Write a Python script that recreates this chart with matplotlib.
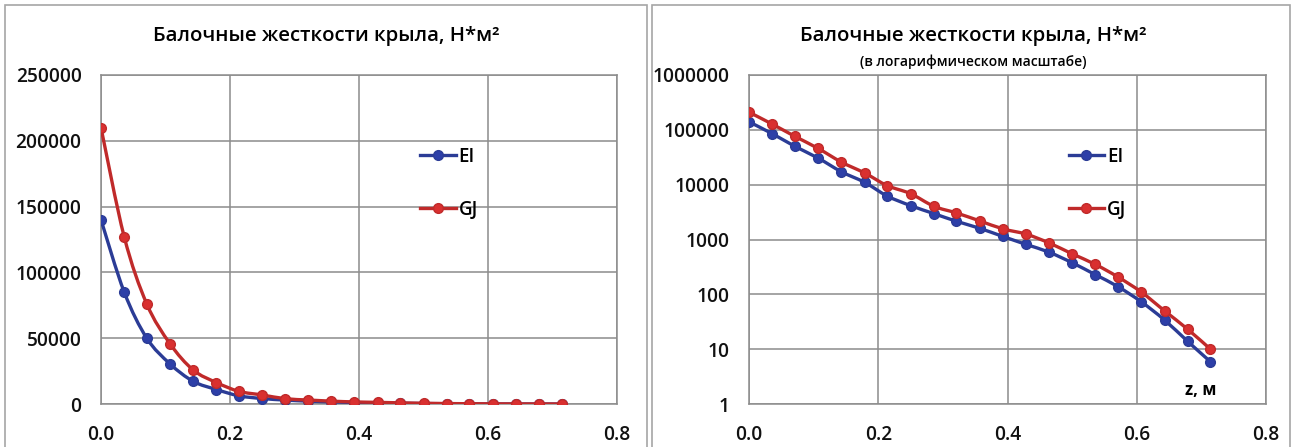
import numpy as np
import matplotlib
matplotlib.use("Agg")
import matplotlib.pyplot as plt
from matplotlib.patches import Rectangle, PathPatch
from matplotlib.path import Path

plt.rcParams['font.family'] = ['Open Sans', 'DejaVu Sans']

##### Stiffness along the wing span
z = [0.0, 0.036, 0.071, 0.107, 0.143, 0.179, 0.214, 0.25, 0.286, 0.321, 0.357,
     0.393, 0.429, 0.464, 0.5, 0.536, 0.571, 0.607, 0.643, 0.679, 0.714]
EI = [140000, 85000, 50000, 30500, 17200, 11000, 6200, 4150, 2970, 2150, 1600,
      1135, 811, 589, 377, 228, 138, 73, 34, 13.8, 5.9]
GJ = [210000, 127000, 76000, 45800, 25800, 16300, 9600, 6860, 4040, 3050, 2185,
      1563, 1250, 869, 548, 351, 207, 110, 50, 23, 10]
x_ticks = [0.0, 0.2, 0.4, 0.6, 0.8]
lin_ticks = [0, 50000, 100000, 150000, 200000, 250000]
log_ticks = [1, 10, 100, 1000, 10000, 100000, 1000000]

title = 'Балочные жесткости крыла, Н*м²'
subtitle = '(в логарифмическом масштабе)'

blue = '#2b3c96'
red = '#c02a2a'
grid_col = '#8c8c8c'
weight = 'semibold'

W, H = 1293, 447
fig = plt.figure(figsize=(W / 100, H / 100), dpi=100)

# chart area frames
for x0, x1 in [(5, 647), (652, 1290)]:
    fig.add_artist(Rectangle((x0 / W, -0.1), (x1 - x0) / W, 1.1 - 5 / H,
                             transform=fig.transFigure, fill=False,
                             edgecolor='#a6a6a6', linewidth=1.2))

ax1 = fig.add_axes([101 / W, 1 - 404 / H, 516 / W, 329 / H])
ax2 = fig.add_axes([749 / W, 1 - 404 / H, 517 / W, 329 / H])


def smooth_path(x, y, log=False):
    # cubic bezier through the points (catmull-rom style tangents)
    x = np.asarray(x, float)
    y = np.asarray(y, float)
    if log:
        y = np.log10(y)
    verts = [(x[0], y[0])]
    codes = [Path.MOVETO]
    n = len(x)
    for i in range(n - 1):
        p0 = max(i - 1, 0)
        p3 = min(i + 2, n - 1)
        c1 = (x[i] + (x[i + 1] - x[p0]) / 6, y[i] + (y[i + 1] - y[p0]) / 6)
        c2 = (x[i + 1] - (x[p3] - x[i]) / 6, y[i + 1] - (y[p3] - y[i]) / 6)
        verts += [c1, c2, (x[i + 1], y[i + 1])]
        codes += [Path.CURVE4] * 3
    verts = np.array(verts)
    if log:
        verts[:, 1] = 10 ** verts[:, 1]
    return Path(verts, codes)


def draw(ax, log=False):
    for vals, col, fc, name, zo in [(EI, blue, '#2d3fa8', 'EI', 3),
                                    (GJ, red, '#d93030', 'GJ', 4)]:
        ax.add_patch(PathPatch(smooth_path(z, vals, log), fill=False,
                               edgecolor=col, lw=2.4, zorder=zo))
        ax.plot(z, vals, 'o', color=col, ms=7, mfc=fc, mec=col, zorder=zo)
        ax.plot([], [], '-o', color=col, lw=2.4, ms=7, mfc=fc, mec=col,
                label=name)
    ax.set_xlim(0, 0.8)
    ax.set_xticks(x_ticks)
    ax.set_xticklabels(['%.1f' % t for t in x_ticks], fontweight=weight)
    ax.grid(True, color=grid_col, linewidth=1.1)
    ax.set_axisbelow(True)
    for s in ax.spines.values():
        s.set_color(grid_col)
        s.set_linewidth(1.1)
    ax.tick_params(length=0, labelsize=13.8, colors='#111111')
    ax.tick_params(axis='x', pad=15)
    ax.tick_params(axis='y', pad=14)
    leg = ax.legend(loc='upper left', bbox_to_anchor=(0.6, 0.81), frameon=False,
                    fontsize=13.5, handlelength=1.9, handletextpad=0.15,
                    labelspacing=1.75, borderpad=0)
    for t in leg.get_texts():
        t.set_fontweight(weight)


draw(ax1)
ax1.set_ylim(0, 250000)
ax1.set_yticks(lin_ticks)
ax1.set_yticklabels([str(t) for t in lin_ticks], fontweight=weight)

draw(ax2, log=True)
ax2.set_yscale('log')
ax2.set_ylim(1, 1000000)
ax2.set_yticks(log_ticks)
ax2.set_yticklabels([str(t) for t in log_ticks], fontweight=weight)
ax2.yaxis.set_minor_locator(plt.NullLocator())
ax2.text(1201 / W, 1 - 390 / H, 'z, м', transform=fig.transFigure,
         ha='center', va='center', fontsize=12, fontweight='bold')

fig.text(326 / W, 1 - 36 / H, title, ha='center', va='center', fontsize=14.7,
         fontweight=weight)
fig.text(973 / W, 1 - 36 / H, title, ha='center', va='center', fontsize=14.7,
         fontweight=weight)
fig.text(973 / W, 1 - 62 / H, subtitle, ha='center', va='center', fontsize=10,
         fontweight=weight)

fig.savefig('out.png', dpi=100)
